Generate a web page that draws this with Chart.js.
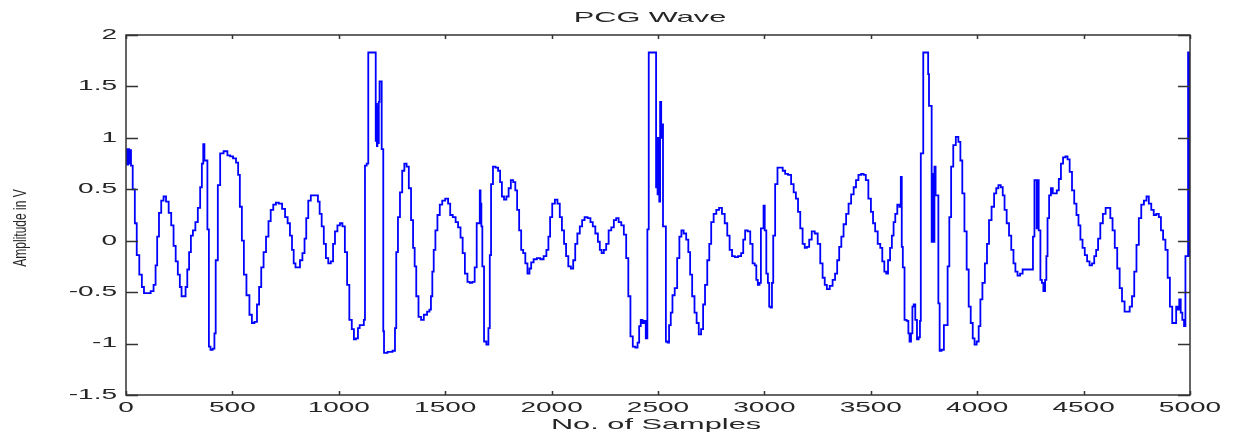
<!DOCTYPE html>
<html>
<head>
<meta charset="utf-8">
<title>PCG Wave</title>
<script src="https://cdn.jsdelivr.net/npm/chart.js@4.4.1/dist/chart.umd.min.js"></script>
<style>
  html, body { margin: 0; padding: 0; background: #fff; }
  canvas { display: block; }
</style>
</head>
<body>
<canvas id="pcgChart" width="1240" height="437"></canvas>
<script>
// sample index (x) and amplitude in V (y)
const samples = [
  0, 4, 8, 12, 18, 22, 25, 38, 45, 56, 69, 80, 89, 108, 124, 135, 143, 150, 160, 171,
  182, 194, 207, 218, 229, 238, 249, 257, 265, 276, 284, 292, 301, 309, 320, 332, 343, 354, 359, 367,
  370, 379, 386, 393, 401, 414, 417, 426, 437, 448, 469, 484, 495, 511, 523, 531, 539, 550, 558, 574,
  586, 597, 610, 621, 630, 641, 652, 664, 675, 685, 699, 710,
  726, 741, 754, 765, 776, 784, 792, 801, 812, 823, 835, 843, 851, 862, 875, 898, 906, 914, 925, 934,
  945, 956, 969, 977, 987, 1000, 1011, 1023, 1034, 1044, 1055, 1067, 1075, 1086, 1094, 1102, 1114, 1121, 1125, 1137,
  1140, 1172, 1175, 1178, 1180, 1183, 1186, 1190, 1193, 1199, 1204, 1208, 1210, 1215, 1243, 1262, 1266, 1274, 1282, 1293,
  1303, 1313, 1324, 1334, 1345, 1353, 1360, 1368, 1381, 1392, 1407, 1423,
  1429, 1437, 1442, 1450, 1458, 1469, 1480, 1492, 1508, 1519, 1528, 1543, 1555, 1566, 1578, 1586, 1599, 1610, 1621, 1633,
  1644, 1652, 1661, 1664, 1668, 1672, 1677, 1688, 1699, 1707, 1712, 1719, 1730, 1743, 1754, 1762, 1771, 1782, 1793, 1803,
  1814, 1825, 1834, 1842, 1853, 1861, 1872, 1881, 1892, 1900, 1908, 1923, 1939, 1955, 1970, 1981, 1989, 1997, 2009, 2022,
  2033, 2044, 2053, 2064, 2072, 2085, 2096, 2107, 2115, 2127, 2138, 2149,
  2161, 2177, 2188, 2199, 2212, 2223, 2230, 2240, 2251, 2262, 2274, 2287, 2298, 2309, 2321, 2334, 2345, 2356, 2365, 2376,
  2387, 2400, 2408, 2415, 2423, 2431, 2439, 2446, 2454, 2459, 2490, 2492, 2496, 2500, 2504, 2508, 2512, 2518, 2522, 2525,
  2533, 2541, 2548, 2556, 2564, 2572, 2585, 2595, 2606, 2614, 2627, 2638, 2647, 2655, 2666, 2677, 2686, 2697, 2708, 2716,
  2726, 2737, 2745, 2755, 2768, 2780, 2794, 2807, 2820, 2831, 2842, 2854, 2868,
  2884, 2897, 2904, 2915, 2928, 2939, 2950, 2959, 2965, 2973, 2981, 2986, 2994, 2998, 3005, 3013, 3020, 3025, 3033, 3038,
  3045, 3056, 3067, 3080, 3092, 3103, 3119, 3132, 3143, 3153, 3163, 3174, 3185, 3194, 3205, 3216, 3229, 3244, 3257, 3268,
  3279, 3288, 3299, 3315, 3326, 3338, 3346, 3357, 3366, 3378, 3390, 3401, 3414, 3425, 3436, 3448, 3461, 3471, 3482, 3495,
  3506, 3515, 3526, 3539, 3550, 3558, 3569, 3576, 3586,
  3595, 3603, 3611, 3619, 3630, 3638, 3644, 3647, 3654, 3663, 3674, 3679, 3685, 3693, 3698, 3705, 3713, 3721, 3729, 3733,
  3737, 3745, 3748, 3768, 3771, 3776, 3784, 3788, 3791, 3796, 3802, 3807, 3815, 3820, 3827, 3838, 3849, 3857, 3865, 3873,
  3882, 3893, 3906, 3917, 3925, 3935, 3945, 3956, 3964, 3975, 3983, 3992, 4003, 4011, 4019, 4030, 4042, 4050, 4061, 4074,
  4085, 4094, 4105, 4116, 4124, 4133, 4144, 4155, 4165, 4176, 4183, 4196, 4207, 4220, 4233, 4246, 4259, 4265, 4273, 4277,
  4282, 4285, 4293, 4301, 4307,
  4315, 4323, 4327, 4334, 4342, 4351, 4359, 4370, 4378, 4389, 4398, 4409, 4420, 4429, 4440, 4451, 4461, 4472, 4480, 4490,
  4500, 4511, 4522, 4534, 4545, 4555, 4563, 4573, 4584, 4597, 4610, 4620, 4631, 4641, 4652, 4664, 4675, 4686, 4699, 4711,
  4722, 4733, 4743, 4754, 4765, 4777, 4790, 4801, 4812, 4824, 4835, 4848, 4859, 4868, 4879, 4890, 4900, 4911, 4922, 4931,
  4939, 4946, 4953, 4960, 4968, 4976, 4981, 4989, 4993, 4996, 5000
];

const amplitude = [
  0.75, 0.89, 0.74, 0.89, 0.75, 0.88, 0.73, 0.5, 0.17, -0.14, -0.33, -0.45, -0.51, -0.51, -0.49, -0.43, -0.24, 0.04, 0.27, 0.39,
  0.43, 0.38, 0.27, 0.15, -0.05, -0.2, -0.33, -0.45, -0.54, -0.54, -0.45, -0.28, -0.11, 0.05, 0.1, 0.18, 0.32, 0.52, 0.75, 0.94,
  0.78, 0.78, 0.11, -1.03, -1.06, -1.05, -0.9, -0.19, 0.54, 0.85, 0.87, 0.83, 0.82, 0.8, 0.76, 0.64, 0.33, 0, -0.33, -0.53,
  -0.72, -0.8, -0.79, -0.62, -0.45, -0.26, -0.11, 0.04, 0.19, 0.3, 0.35, 0.37,
  0.36, 0.31, 0.23, 0.17, 0.05, -0.09, -0.22, -0.26, -0.26, -0.19, -0.12, 0.02, 0.22, 0.39, 0.44, 0.44, 0.38, 0.26, 0.14, -0.03,
  -0.17, -0.22, -0.2, -0.03, 0.09, 0.15, 0.17, 0.14, -0.11, -0.43, -0.77, -0.86, -0.96, -0.95, -0.85, -0.82, -0.82, -0.77, 0.73, 0.75,
  1.83, 1.83, 0.97, 1.33, 0.92, 1.3, 0.95, 1.35, 1.55, 1.55, 0.89, 0.89, -0.88, -1.09, -1.08, -1.07, -0.85, -0.11, 0.23, 0.47,
  0.68, 0.75, 0.72, 0.51, 0.2, -0.07, -0.25, -0.54, -0.74, -0.77, -0.72, -0.69,
  -0.67, -0.54, -0.3, -0.09, 0.1, 0.25, 0.35, 0.39, 0.41, 0.36, 0.25, 0.23, 0.18, 0.13, 0.03, -0.12, -0.32, -0.4, -0.41, -0.4,
  -0.26, 0.17, 0.17, 0.49, 0.36, 0.14, -0.25, -0.98, -1.01, -0.85, -0.14, 0.55, 0.72, 0.71, 0.68, 0.57, 0.43, 0.4, 0.43, 0.51,
  0.59, 0.57, 0.49, 0.3, 0.1, -0.09, -0.12, -0.22, -0.32, -0.27, -0.21, -0.18, -0.17, -0.18, -0.15, -0.09, 0.04, 0.23, 0.36, 0.4,
  0.36, 0.23, 0.1, -0.03, -0.15, -0.25, -0.27, -0.19, -0.03, 0.07, 0.14, 0.2,
  0.23, 0.22, 0.18, 0.14, 0.07, -0.01, -0.09, -0.12, -0.09, -0.03, 0.1, 0.13, 0.2, 0.22, 0.18, 0.15, 0.06, -0.17, -0.54, -0.93,
  -1.03, -1.04, -0.99, -0.83, -0.77, -0.8, -0.78, -0.95, 0.11, 1.83, 1.83, 0.52, 1.0, 0.45, 1.0, 0.38, 1.35, 1.0, 1.13, 0.14,
  0.14, -0.98, -0.99, -0.82, -0.7, -0.53, -0.46, -0.17, 0.04, 0.1, 0.07, 0.01, -0.11, -0.33, -0.54, -0.7, -0.8, -0.91, -0.86, -0.62,
  -0.43, -0.19, -0.03, 0.18, 0.26, 0.3, 0.32, 0.26, 0.17, 0.05, -0.09, -0.15, -0.16,
  -0.15, -0.12, 0.01, 0.1, 0.09, -0.03, -0.22, -0.24, -0.38, -0.43, -0.41, 0.12, 0.12, 0.34, 0.1, -0.32, -0.41, -0.64, -0.65, -0.41,
  0.05, 0.55, 0.71, 0.71, 0.68, 0.65, 0.64, 0.55, 0.47, 0.41, 0.28, 0.12, -0.03, -0.07, -0.06, 0.01, 0.09, 0.07, -0.03, -0.22,
  -0.36, -0.43, -0.47, -0.44, -0.38, -0.32, -0.19, -0.06, 0.04, 0.16, 0.26, 0.36, 0.45, 0.52, 0.59, 0.64, 0.65, 0.64, 0.59, 0.41,
  0.28, 0.17, 0.09, -0.03, -0.07, -0.2, -0.3, -0.32, -0.19,
  -0.07, 0.05, 0.18, 0.26, 0.35, 0.33, 0.62, -0.06, -0.26, -0.77, -0.78, -0.9, -0.98, -0.9, -0.64, -0.62, -0.77, -0.96, -0.94, -0.78,
  0.85, 0.85, 1.83, 1.83, 1.62, 1.31, 1.31, -0.01, 0.65, -0.01, 0.72, 0.44, 0.44, -0.61, -1.07, -1.06, -0.82, -0.82, -0.25, 0.23,
  0.72, 0.93, 1.01, 0.96, 0.78, 0.46, 0.09, -0.28, -0.64, -0.8, -0.95, -1.01, -0.98, -0.83, -0.57, -0.41, -0.22, -0.03, 0.2, 0.33,
  0.46, 0.51, 0.54, 0.52, 0.44, 0.3, 0.17, 0.05, -0.09, -0.22, -0.3, -0.34, -0.32, -0.28, -0.28, -0.28, -0.28, 0.04, 0.59, 0.59,
  0.12, 0.59, 0.1, -0.38, -0.41,
  -0.49, -0.38, -0.15, 0.22, 0.44, 0.51, 0.46, 0.46, 0.49, 0.6, 0.75, 0.81, 0.82, 0.79, 0.67, 0.49, 0.36, 0.25, 0.15, 0.01,
  -0.07, -0.14, -0.2, -0.24, -0.22, -0.15, -0.09, 0.02, 0.17, 0.26, 0.32, 0.32, 0.22, 0.1, -0.07, -0.27, -0.46, -0.59, -0.69, -0.69,
  -0.64, -0.54, -0.3, -0.04, 0.22, 0.35, 0.39, 0.43, 0.36, 0.3, 0.25, 0.26, 0.23, 0.1, 0.01, -0.09, -0.36, -0.64, -0.8, -0.8,
  -0.64, -0.67, -0.57, -0.7, -0.77, -0.83, -0.15, -0.15, 1.83, -0.15, 1.83
];

const xTicks = [0, 500, 1000, 1500, 2000, 2500, 3000, 3500, 4000, 4500, 5000];
const yTicks = [-1.5, -1, -0.5, 0, 0.5, 1, 1.5, 2];

const chartTitle = 'PCG Wave';
const xTitle = 'No. of Samples';
const yTitle = 'Amplitude in V';

// text in the picture is stretched sideways, so draw it with a horizontal scale
function wideText(ctx, text, x, y, size, sx, align, rotate) {
    ctx.save();
    ctx.translate(x, y);
    ctx.scale(sx, 1);
    if (rotate) ctx.rotate(-Math.PI / 2);
    ctx.font = size + 'px "Liberation Sans", Arial, sans-serif';
    ctx.fillStyle = '#262626';
    ctx.textAlign = align;
    ctx.textBaseline = 'middle';
    ctx.fillText(text, 0, 0);
    ctx.restore();
}

// MATLAB style box, inward ticks and labels
const matlabAxes = {
    id: 'matlabAxes',
    afterDraw(chart) {
        const ctx = chart.ctx;
        const a = chart.chartArea;
        const xs = chart.scales.x;
        const ys = chart.scales.y;

        ctx.save();
        ctx.strokeStyle = '#333';
        ctx.lineWidth = 1.5;
        ctx.strokeRect(a.left, a.top, a.right - a.left, a.bottom - a.top);

        ctx.beginPath();
        xTicks.forEach(t => {
            const px = Math.round(xs.getPixelForValue(t)) + 0.5;
            ctx.moveTo(px, a.bottom); ctx.lineTo(px, a.bottom - 4);
            ctx.moveTo(px, a.top); ctx.lineTo(px, a.top + 4);
        });
        yTicks.forEach(t => {
            const py = Math.round(ys.getPixelForValue(t)) + 0.5;
            ctx.moveTo(a.left, py); ctx.lineTo(a.left + 12, py);
            ctx.moveTo(a.right, py); ctx.lineTo(a.right - 12, py);
        });
        ctx.stroke();
        ctx.restore();

        xTicks.forEach(t => {
            wideText(ctx, String(t), xs.getPixelForValue(t), a.bottom + 13, 14, 2.0, 'center');
        });
        yTicks.forEach(t => {
            wideText(ctx, String(t), a.left - 9, ys.getPixelForValue(t), 14, 2.0, 'right');
        });

        wideText(ctx, chartTitle, (a.left + a.right) / 2 - 8, 18, 15, 2.05, 'center');
        wideText(ctx, xTitle, (a.left + a.right) / 2 - 2, 425, 15, 2.05, 'center');
        wideText(ctx, yTitle, 21, 228, 12, 1.6, 'center', true);
    }
};

const ctx = document.getElementById('pcgChart').getContext('2d');

new Chart(ctx, {
    type: 'line',
    data: {
        datasets: [{
            label: 'PCG',
            data: samples.map((s, i) => ({ x: s, y: amplitude[i] })),
            borderColor: '#0000ff',
            borderWidth: 1.8,
            pointRadius: 0,
            stepped: 'middle',
            fill: false
        }]
    },
    options: {
        responsive: false,
        animation: false,
        layout: {
            padding: { left: 126, top: 35, right: 50, bottom: 42 }
        },
        plugins: {
            legend: { display: false },
            tooltip: { enabled: false }
        },
        scales: {
            x: {
                type: 'linear',
                display: false,
                min: 0,
                max: 5000
            },
            y: {
                type: 'linear',
                display: false,
                min: -1.5,
                max: 2
            }
        }
    },
    plugins: [matlabAxes]
});
</script>
</body>
</html>
